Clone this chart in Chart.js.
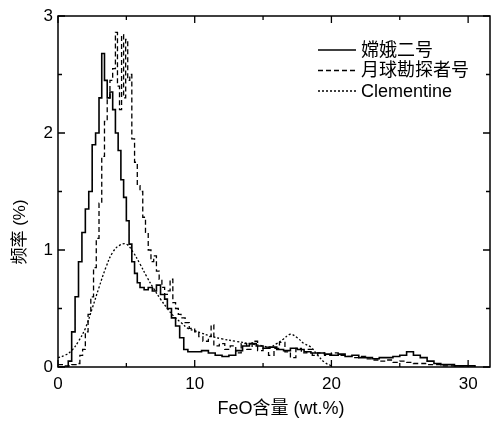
<!DOCTYPE html>
<html><head><meta charset="utf-8">
<script src="https://cdn.jsdelivr.net/npm/chart.js@4"></script>
<style>html,body{margin:0;padding:0;background:#fff}#wrap{width:493px;height:421px}</style>
</head><body><div id="wrap"><canvas id="c" width="493" height="421"></canvas></div>
<script>
const seriesLabels = ['嫦娥二号', '月球勘探者号', 'Clementine'];
const xTitle = 'FeO含量 (wt.%)';
const yTitle = '频率 (%)';
const xTicks = [0, 10, 20, 30];
const yTicks = [0, 1, 2, 3];

const ce2X = [0,0.5,0.75,1.0,1.25,1.5,1.75,2.0,2.25,2.5,2.75,3.0,3.2,3.4,3.6,3.8,4.0,4.2,4.4,4.6,4.8,5.0,5.2,5.4,5.6,5.8,6.0,6.3,6.6,6.9,7.2,7.5,7.8,8.0,8.3,8.6,8.9,9.2,9.5,10,10.5,11,11.5,12,12.5,13,13.5,14,14.5,15,15.5,16,16.5,17,17.5,18,18.5,19,19.5,20,20.5,21,21.5,22,22.5,23,23.5,24,24.5,25,25.5,26,26.5,27,27.5,28,29,30,30.5];
const ce2Y = [0,0,0.05,0.3,0.6,0.9,1.15,1.35,1.5,1.9,2.0,2.3,2.68,2.45,2.3,2.35,2.2,2.0,1.85,1.6,1.45,1.25,1.05,0.9,0.8,0.72,0.68,0.66,0.68,0.65,0.7,0.62,0.58,0.5,0.42,0.35,0.25,0.15,0.13,0.13,0.14,0.12,0.1,0.09,0.1,0.14,0.18,0.2,0.18,0.16,0.17,0.15,0.14,0.16,0.15,0.13,0.12,0.12,0.11,0.1,0.11,0.09,0.1,0.08,0.08,0.07,0.08,0.08,0.09,0.1,0.13,0.1,0.08,0.05,0.03,0.02,0.01,0.01,0];

const lpX = [0,0.5,1.0,1.4,1.6,1.8,2.0,2.2,2.4,2.6,2.8,3.0,3.2,3.4,3.6,3.8,4.0,4.2,4.35,4.5,4.65,4.8,4.95,5.1,5.25,5.4,5.6,5.8,6.0,6.2,6.4,6.6,6.8,7.0,7.2,7.4,7.6,7.8,8.0,8.2,8.4,8.6,8.8,9.0,9.3,9.6,10.0,10.3,10.6,11.0,11.2,11.4,11.8,12.2,12.6,13.0,13.4,13.8,14.2,14.6,15.0,15.4,15.8,16.2,16.6,17.0,17.4,17.8,18.2,18.6,19.0,19.5,20,20.5,21,21.5,22,22.5,23,23.5,24,24.5,25,25.5,26,27,28,29,30];
const lpY = [0.02,0.01,0.02,0.03,0.1,0.15,0.3,0.45,0.6,0.85,1.1,1.4,1.8,2.1,2.3,2.45,2.55,2.86,2.4,2.2,2.84,2.3,2.8,2.45,2.5,1.95,1.75,1.55,1.5,1.28,1.15,1.0,0.9,0.95,0.82,0.75,0.68,0.62,0.65,0.75,0.55,0.5,0.45,0.42,0.38,0.33,0.3,0.26,0.22,0.26,0.36,0.18,0.2,0.15,0.18,0.12,0.2,0.15,0.22,0.14,0.17,0.1,0.16,0.21,0.13,0.08,0.16,0.12,0.15,0.1,0.12,0.1,0.12,0.1,0.09,0.08,0.09,0.07,0.06,0.05,0.06,0.04,0.05,0.04,0.03,0.02,0.01,0.01,0.01];

const clX = [0,0.5,1,1.5,2,2.5,3,3.5,4,4.5,5,5.5,6,6.5,7,7.5,8,8.5,9,9.5,10,10.5,11,12,13,14,15,15.5,16,16.5,17,17.5,18,18.5,19,19.5,20];
const clY = [0.08,0.1,0.14,0.22,0.33,0.5,0.68,0.85,0.98,1.04,1.05,0.98,0.88,0.77,0.67,0.58,0.5,0.43,0.38,0.33,0.31,0.29,0.27,0.24,0.22,0.2,0.18,0.17,0.2,0.24,0.28,0.25,0.2,0.17,0.1,0.04,0.01];

const pts = (xs, ys) => xs.map((x, i) => ({x, y: ys[i]}));
const FONT = '"Liberation Sans", Arial, "Noto Sans CJK SC", sans-serif';
const L = 58, T = 16, R = 490, B = 367;

const framePlugin = {
  id: 'frame',
  afterDraw(chart) {
    const ctx = chart.ctx, xs = chart.scales.x, ys = chart.scales.y;
    const a = chart.chartArea;
    ctx.save();
    ctx.strokeStyle = '#000';
    ctx.lineWidth = 1.5;
    ctx.strokeRect(a.left, a.top, a.right - a.left, a.bottom - a.top);
    ctx.lineWidth = 1.3;
    const tickX = (v, len) => {
      const p = xs.getPixelForValue(v);
      ctx.beginPath();
      ctx.moveTo(p, a.bottom); ctx.lineTo(p, a.bottom - len);
      ctx.moveTo(p, a.top); ctx.lineTo(p, a.top + len);
      ctx.stroke();
    };
    const tickY = (v, len) => {
      const p = ys.getPixelForValue(v);
      ctx.beginPath();
      ctx.moveTo(a.left, p); ctx.lineTo(a.left + len, p);
      ctx.moveTo(a.right, p); ctx.lineTo(a.right - len, p);
      ctx.stroke();
    };
    xTicks.forEach(v => tickX(v, 7));
    [5, 15, 25].forEach(v => tickX(v, 4));
    yTicks.forEach(v => tickY(v, 7));
    [0.5, 1.5, 2.5].forEach(v => tickY(v, 4));
    // titles
    ctx.fillStyle = '#000';
    ctx.font = '18px ' + FONT;
    ctx.textAlign = 'center';
    ctx.textBaseline = 'middle';
    ctx.fillText(xTitle, 281, 409);
    ctx.save();
    ctx.font = '17px ' + FONT;
    ctx.translate(20, 232);
    ctx.rotate(-Math.PI / 2);
    ctx.fillText(yTitle, 0, 0);
    ctx.restore();
    // legend
    const ds = chart.data.datasets;
    ctx.font = '18px ' + FONT;
    ctx.textAlign = 'left';
    ds.forEach((d, i) => {
      const y = 50 + i * 20.5;
      ctx.beginPath();
      ctx.lineWidth = d.borderWidth;
      ctx.setLineDash(d.borderDash || []);
      ctx.moveTo(318, y); ctx.lineTo(356, y);
      ctx.stroke();
      ctx.setLineDash([]);
      ctx.fillText(d.label, 361, y + 1);
    });
    ctx.restore();
  }
};

new Chart(document.getElementById('c'), {
  type: 'line',
  data: {
    datasets: [
      {label: seriesLabels[0], data: pts(ce2X, ce2Y), borderColor: '#000', borderWidth: 1.6, stepped: true, pointRadius: 0, fill: false},
      {label: seriesLabels[1], data: pts(lpX, lpY), borderColor: '#000', borderWidth: 1.3, borderDash: [5, 3], stepped: true, pointRadius: 0, fill: false},
      {label: seriesLabels[2], data: pts(clX, clY), borderColor: '#000', borderWidth: 1.3, borderDash: [2, 2], tension: 0.4, pointRadius: 0, fill: false}
    ]
  },
  options: {
    responsive: false,
    animation: false,
    layout: {padding: {top: T, right: 493 - R, left: 0, bottom: 0}},
    plugins: {legend: {display: false}, tooltip: {enabled: false}},
    scales: {
      x: {
        type: 'linear', min: 0, max: 31.6,
        afterBuildTicks: s => { s.ticks = xTicks.map(v => ({value: v})); },
        afterFit: s => { s.height = 421 - B; },
        grid: {display: false, drawTicks: false},
        border: {display: false},
        ticks: {color: '#000', font: {size: 17, family: FONT}, padding: 7, maxRotation: 0}
      },
      y: {
        min: 0, max: 3,
        afterBuildTicks: s => { s.ticks = yTicks.map(v => ({value: v})); },
        afterFit: s => { s.width = L; },
        grid: {display: false, drawTicks: false},
        border: {display: false},
        ticks: {color: '#000', font: {size: 17, family: FONT}, padding: 5}
      }
    }
  },
  plugins: [framePlugin]
});
</script></body></html>
